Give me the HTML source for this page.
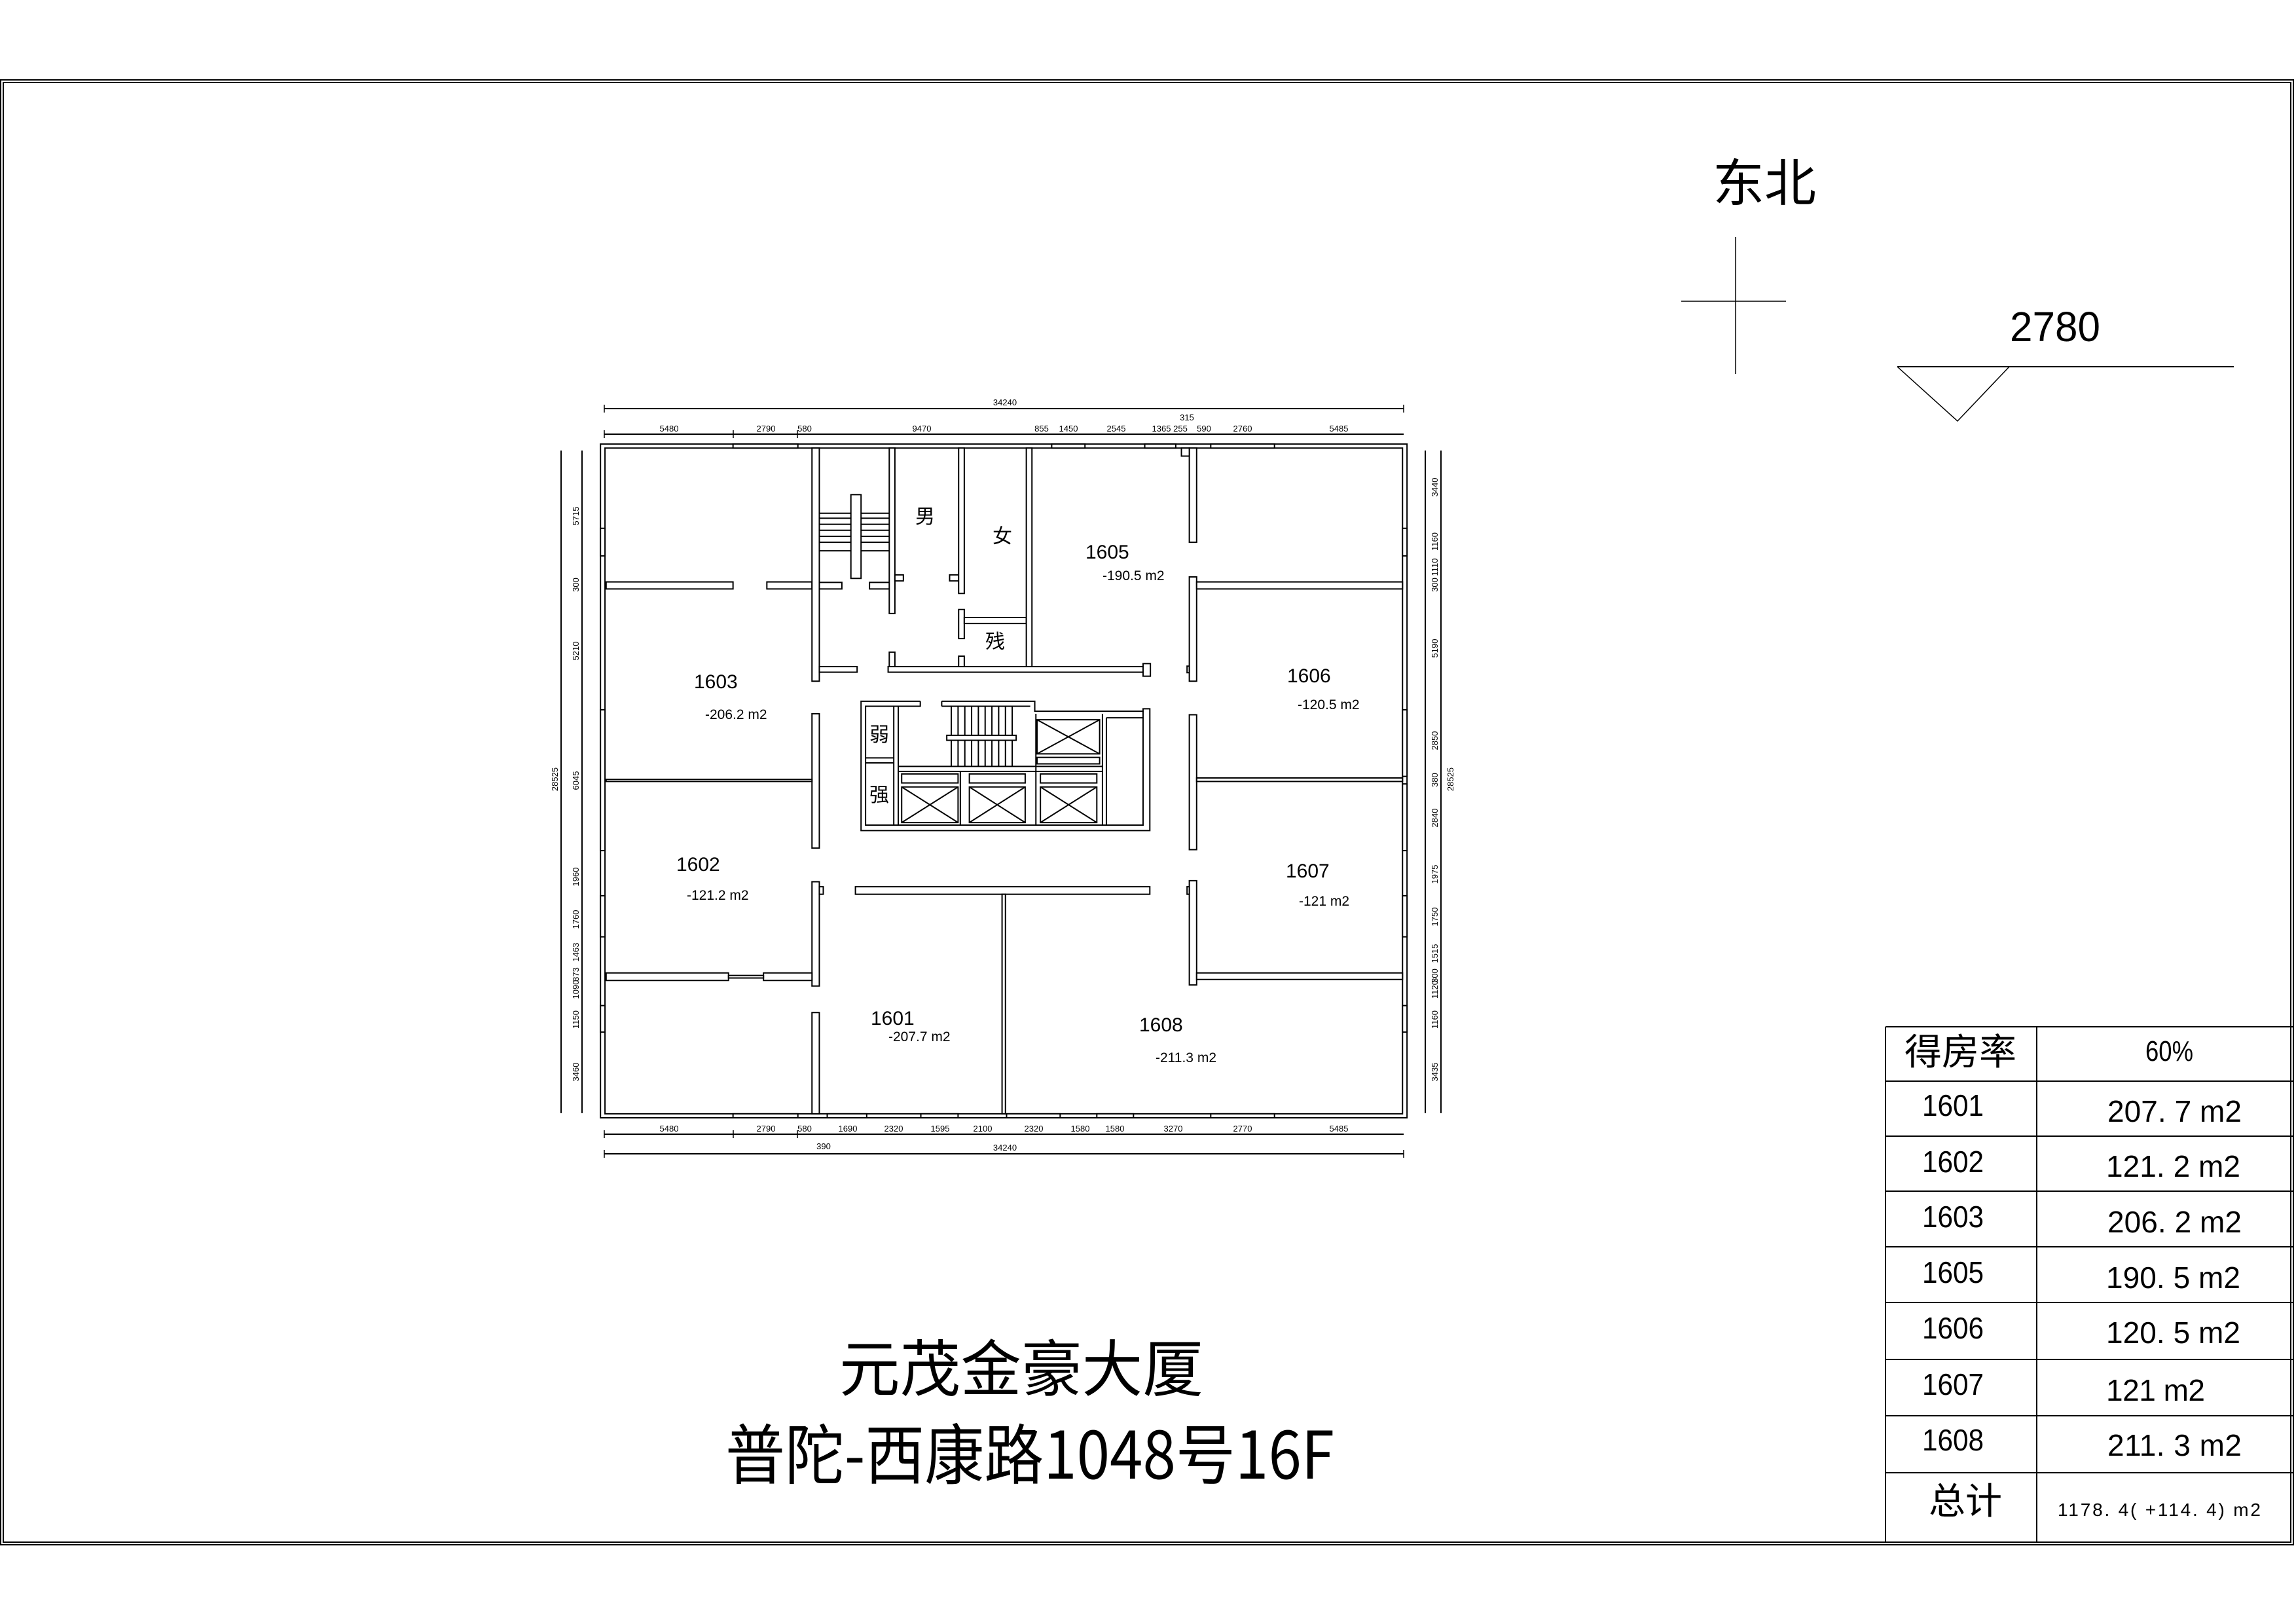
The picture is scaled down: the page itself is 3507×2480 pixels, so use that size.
<!DOCTYPE html>
<html><head><meta charset="utf-8"><style>
html,body{margin:0;padding:0;background:#fff;}
svg{display:block;}
text{font-family:"Liberation Sans","Noto Sans CJK SC",sans-serif;fill:#000;}
.cjk{font-family:"Noto Sans CJK SC","WenQuanYi Zen Hei",sans-serif;}
.d{font-size:13px;}
</style></head><body>
<svg width="3507" height="2480" viewBox="0 0 3507 2480" xmlns="http://www.w3.org/2000/svg">
<rect x="0" y="0" width="3507" height="2480" fill="#fff"/>
<rect x="1" y="122" width="3502" height="2237" fill="none" stroke="#000" stroke-width="2"/>
<rect x="5" y="126" width="3494" height="2229" fill="none" stroke="#000" stroke-width="2"/>

<text x="2616" y="307" class="cjk" font-size="78" textLength="158" lengthAdjust="spacingAndGlyphs">东北</text>
<line x1="2651" y1="362" x2="2651" y2="571" stroke="#000" stroke-width="1.5"/>
<line x1="2568" y1="460" x2="2728" y2="460" stroke="#000" stroke-width="1.5"/>
<text x="3070" y="521" font-size="64" textLength="138" lengthAdjust="spacingAndGlyphs">2780</text>
<line x1="2898" y1="560" x2="3412" y2="560" stroke="#000" stroke-width="2"/>
<polyline points="2898,560 2990,643 3069,560" fill="none" stroke="#000" stroke-width="1.5"/>

<g transform="translate(850,600) scale(0.8615,0.7656)" fill="#fff" stroke="#000" stroke-width="2">
<g>
<rect x="78" y="102" width="1430" height="1344" vector-effect="non-scaling-stroke"/>
<rect x="86" y="110" width="1414" height="1328" vector-effect="non-scaling-stroke"/>
</g>
<g>
<rect x="313" y="102" width="115" height="8" vector-effect="non-scaling-stroke"/>
<rect x="878" y="102" width="59" height="8" vector-effect="non-scaling-stroke"/>
<rect x="1043" y="102" width="55" height="8" vector-effect="non-scaling-stroke"/>
<rect x="1160" y="102" width="113" height="8" vector-effect="non-scaling-stroke"/>
<rect x="313" y="1438" width="115" height="8" vector-effect="non-scaling-stroke"/>
<rect x="480" y="1438" width="70" height="8" vector-effect="non-scaling-stroke"/>
<rect x="646" y="1438" width="66" height="8" vector-effect="non-scaling-stroke"/>
<rect x="798" y="1438" width="95" height="8" vector-effect="non-scaling-stroke"/>
<rect x="958" y="1438" width="65" height="8" vector-effect="non-scaling-stroke"/>
<rect x="1160" y="1438" width="113" height="8" vector-effect="non-scaling-stroke"/>
<rect x="78" y="270" width="8" height="55" vector-effect="non-scaling-stroke"/>
<rect x="78" y="632" width="8" height="281" vector-effect="non-scaling-stroke"/>
<rect x="78" y="1003" width="8" height="82" vector-effect="non-scaling-stroke"/>
<rect x="78" y="1222" width="8" height="53" vector-effect="non-scaling-stroke"/>
<rect x="1500" y="270" width="8" height="55" vector-effect="non-scaling-stroke"/>
<rect x="1500" y="632" width="8" height="133" vector-effect="non-scaling-stroke"/>
<rect x="1500" y="780" width="8" height="133" vector-effect="non-scaling-stroke"/>
<rect x="1500" y="1003" width="8" height="82" vector-effect="non-scaling-stroke"/>
<rect x="1500" y="1222" width="8" height="53" vector-effect="non-scaling-stroke"/>
</g>
<g>
<rect x="88" y="377" width="225" height="14" vector-effect="non-scaling-stroke"/>
<rect x="373" y="377" width="80" height="14" vector-effect="non-scaling-stroke"/>
<rect x="466" y="378" width="40" height="13" vector-effect="non-scaling-stroke"/>
<rect x="555" y="378" width="45" height="13" vector-effect="non-scaling-stroke"/>
<rect x="453" y="110" width="13" height="465" vector-effect="non-scaling-stroke"/>
<rect x="453" y="640" width="13" height="268" vector-effect="non-scaling-stroke"/>
<rect x="453" y="975" width="13" height="208" vector-effect="non-scaling-stroke"/>
<rect x="453" y="1236" width="13" height="202" vector-effect="non-scaling-stroke"/>
<rect x="88" y="771" width="365" height="4" vector-effect="non-scaling-stroke"/>
<rect x="88" y="1157" width="217" height="15" vector-effect="non-scaling-stroke"/>
<rect x="367" y="1157" width="86" height="15" vector-effect="non-scaling-stroke"/>
<rect x="305" y="1162" width="62" height="5" vector-effect="non-scaling-stroke"/>
<line x1="466" y1="240" x2="590" y2="240" vector-effect="non-scaling-stroke"/>
<line x1="466" y1="250" x2="590" y2="250" vector-effect="non-scaling-stroke"/>
<line x1="466" y1="262" x2="590" y2="262" vector-effect="non-scaling-stroke"/>
<line x1="466" y1="274" x2="590" y2="274" vector-effect="non-scaling-stroke"/>
<line x1="466" y1="286" x2="590" y2="286" vector-effect="non-scaling-stroke"/>
<line x1="466" y1="298" x2="590" y2="298" vector-effect="non-scaling-stroke"/>
<line x1="466" y1="315" x2="590" y2="315" vector-effect="non-scaling-stroke"/>
<rect x="522" y="203" width="18" height="167" vector-effect="non-scaling-stroke"/>
<rect x="590" y="110" width="10" height="330" vector-effect="non-scaling-stroke"/>
<rect x="600" y="363" width="15" height="12" vector-effect="non-scaling-stroke"/>
<rect x="697" y="363" width="16" height="12" vector-effect="non-scaling-stroke"/>
<rect x="713" y="110" width="10" height="290" vector-effect="non-scaling-stroke"/>
<rect x="713" y="432" width="10" height="58" vector-effect="non-scaling-stroke"/>
<rect x="723" y="448" width="110" height="12" vector-effect="non-scaling-stroke"/>
<rect x="833" y="110" width="10" height="436" vector-effect="non-scaling-stroke"/>
<rect x="713" y="525" width="10" height="21" vector-effect="non-scaling-stroke"/>
<rect x="590" y="517" width="10" height="29" vector-effect="non-scaling-stroke"/>
<rect x="466" y="546" width="67" height="11" vector-effect="non-scaling-stroke"/>
<rect x="588" y="546" width="455" height="11" vector-effect="non-scaling-stroke"/>
<rect x="1040" y="540" width="13" height="25" vector-effect="non-scaling-stroke"/>
<rect x="1122" y="110" width="13" height="188" vector-effect="non-scaling-stroke"/>
<rect x="1122" y="367" width="13" height="208" vector-effect="non-scaling-stroke"/>
<rect x="1122" y="642" width="13" height="269" vector-effect="non-scaling-stroke"/>
<rect x="1122" y="973" width="13" height="208" vector-effect="non-scaling-stroke"/>
<rect x="1108" y="110" width="14" height="16" vector-effect="non-scaling-stroke"/>
<rect x="1118" y="545" width="4" height="13" vector-effect="non-scaling-stroke"/>
<rect x="1118" y="985" width="4" height="15" vector-effect="non-scaling-stroke"/>
<rect x="466" y="985" width="7" height="15" vector-effect="non-scaling-stroke"/>
<rect x="1135" y="377" width="365" height="14" vector-effect="non-scaling-stroke"/>
<rect x="1135" y="768" width="365" height="7" vector-effect="non-scaling-stroke"/>
<rect x="1135" y="1157" width="365" height="13" vector-effect="non-scaling-stroke"/>
<rect x="530" y="985" width="522" height="15" vector-effect="non-scaling-stroke"/>
<rect x="790" y="1000" width="6" height="438" vector-effect="non-scaling-stroke"/>
</g>
<g fill="none">
<polyline points="645,615 540,615 540,873 1052,873 1052,630 1040,630 1040,635 848,635 848,615 683,615" vector-effect="non-scaling-stroke"/>
<polyline points="645,615 645,625 548,625 548,862 1040,862 1040,635" vector-effect="non-scaling-stroke"/>
<line x1="683" y1="615" x2="683" y2="625" vector-effect="non-scaling-stroke"/>
<line x1="683" y1="625" x2="840" y2="625" vector-effect="non-scaling-stroke"/>
<line x1="598" y1="625" x2="598" y2="862" vector-effect="non-scaling-stroke"/>
<line x1="606" y1="625" x2="606" y2="862" vector-effect="non-scaling-stroke"/>
<line x1="548" y1="728" x2="598" y2="728" vector-effect="non-scaling-stroke"/>
<line x1="548" y1="738" x2="598" y2="738" vector-effect="non-scaling-stroke"/>
<line x1="606" y1="745" x2="968" y2="745" vector-effect="non-scaling-stroke"/>
<line x1="606" y1="755" x2="968" y2="755" vector-effect="non-scaling-stroke"/>
<line x1="716" y1="755" x2="716" y2="862" vector-effect="non-scaling-stroke"/>
<line x1="850" y1="640" x2="850" y2="862" vector-effect="non-scaling-stroke"/>
<line x1="968" y1="640" x2="968" y2="862" vector-effect="non-scaling-stroke"/>
<line x1="975" y1="648" x2="975" y2="862" vector-effect="non-scaling-stroke"/>
<line x1="975" y1="648" x2="1040" y2="648" vector-effect="non-scaling-stroke"/>
<line x1="700" y1="625" x2="700" y2="745" vector-effect="non-scaling-stroke"/>
<line x1="712" y1="625" x2="712" y2="745" vector-effect="non-scaling-stroke"/>
<line x1="724" y1="625" x2="724" y2="745" vector-effect="non-scaling-stroke"/>
<line x1="736" y1="625" x2="736" y2="745" vector-effect="non-scaling-stroke"/>
<line x1="748" y1="625" x2="748" y2="745" vector-effect="non-scaling-stroke"/>
<line x1="760" y1="625" x2="760" y2="745" vector-effect="non-scaling-stroke"/>
<line x1="772" y1="625" x2="772" y2="745" vector-effect="non-scaling-stroke"/>
<line x1="784" y1="625" x2="784" y2="745" vector-effect="non-scaling-stroke"/>
<line x1="796" y1="625" x2="796" y2="745" vector-effect="non-scaling-stroke"/>
<line x1="808" y1="625" x2="808" y2="745" vector-effect="non-scaling-stroke"/>
<rect x="692" y="683" width="123" height="10" fill="#fff" vector-effect="non-scaling-stroke"/>
<rect x="852" y="652" width="111" height="68" vector-effect="non-scaling-stroke"/>
<line x1="852" y1="652" x2="963" y2="720" vector-effect="non-scaling-stroke"/>
<line x1="963" y1="652" x2="852" y2="720" vector-effect="non-scaling-stroke"/>
<rect x="852" y="727" width="111" height="13" vector-effect="non-scaling-stroke"/>
<rect x="612" y="760" width="100" height="18" vector-effect="non-scaling-stroke"/>
<rect x="612" y="786" width="100" height="71" vector-effect="non-scaling-stroke"/>
<line x1="612" y1="786" x2="712" y2="857" vector-effect="non-scaling-stroke"/>
<line x1="712" y1="786" x2="612" y2="857" vector-effect="non-scaling-stroke"/>
<rect x="732" y="760" width="99" height="18" vector-effect="non-scaling-stroke"/>
<rect x="732" y="786" width="99" height="71" vector-effect="non-scaling-stroke"/>
<line x1="732" y1="786" x2="831" y2="857" vector-effect="non-scaling-stroke"/>
<line x1="831" y1="786" x2="732" y2="857" vector-effect="non-scaling-stroke"/>
<rect x="858" y="760" width="100" height="18" vector-effect="non-scaling-stroke"/>
<rect x="858" y="786" width="100" height="71" vector-effect="non-scaling-stroke"/>
<line x1="858" y1="786" x2="958" y2="857" vector-effect="non-scaling-stroke"/>
<line x1="958" y1="786" x2="858" y2="857" vector-effect="non-scaling-stroke"/>
</g>
</g>

<g stroke="#000" stroke-width="2">
<line x1="923" y1="624" x2="2144" y2="624"/>
<line x1="923" y1="663" x2="2144" y2="663"/>
<line x1="923" y1="1732" x2="2144" y2="1732"/>
<line x1="923" y1="1762" x2="2144" y2="1762"/>
<line x1="889" y1="688" x2="889" y2="1700"/>
<line x1="857" y1="688" x2="857" y2="1700"/>
<line x1="2177" y1="688" x2="2177" y2="1700"/>
<line x1="2201" y1="688" x2="2201" y2="1700"/>
</g>
<g stroke="#000" stroke-width="1.5">
<line x1="923" y1="618" x2="923" y2="630"/><line x1="2144" y1="618" x2="2144" y2="630"/>
<line x1="923" y1="657" x2="923" y2="669"/><line x1="1120" y1="657" x2="1120" y2="669"/><line x1="1218" y1="657" x2="1218" y2="669"/>
<line x1="923" y1="1726" x2="923" y2="1738"/><line x1="1120" y1="1726" x2="1120" y2="1738"/><line x1="1218" y1="1726" x2="1218" y2="1738"/>
<line x1="923" y1="1756" x2="923" y2="1768"/><line x1="2144" y1="1756" x2="2144" y2="1768"/>
</g>
<g class="d" text-anchor="middle">
<text x="1535" y="619">34240</text>
<text x="1022" y="659">5480</text><text x="1170" y="659">2790</text><text x="1229" y="659">580</text>
<text x="1408" y="659">9470</text><text x="1591" y="659">855</text><text x="1632" y="659">1450</text>
<text x="1705" y="659">2545</text><text x="1774" y="659">1365</text><text x="1803" y="659">255</text>
<text x="1813" y="642">315</text><text x="1839" y="659">590</text><text x="1898" y="659">2760</text><text x="2045" y="659">5485</text>
<text x="1022" y="1728">5480</text><text x="1170" y="1728">2790</text><text x="1229" y="1728">580</text>
<text x="1295" y="1728">1690</text><text x="1365" y="1728">2320</text><text x="1436" y="1728">1595</text>
<text x="1501" y="1728">2100</text><text x="1579" y="1728">2320</text><text x="1650" y="1728">1580</text>
<text x="1703" y="1728">1580</text><text x="1792" y="1728">3270</text><text x="1898" y="1728">2770</text><text x="2045" y="1728">5485</text>
<text x="1258" y="1755">390</text><text x="1535" y="1757">34240</text>
</g>
<g class="d" text-anchor="middle">
<text transform="translate(884,788) rotate(-90)">5715</text>
<text transform="translate(884,893) rotate(-90)">300</text>
<text transform="translate(884,994) rotate(-90)">5210</text>
<text transform="translate(884,1192) rotate(-90)">6045</text>
<text transform="translate(884,1339) rotate(-90)">1960</text>
<text transform="translate(884,1404) rotate(-90)">1760</text>
<text transform="translate(884,1454) rotate(-90)">1463</text>
<text transform="translate(884,1488) rotate(-90)">373</text>
<text transform="translate(884,1511) rotate(-90)">1090</text>
<text transform="translate(884,1557) rotate(-90)">1150</text>
<text transform="translate(884,1637) rotate(-90)">3460</text>
<text transform="translate(852,1190) rotate(-90)">28525</text>
<text transform="translate(2196,744) rotate(-90)">3440</text>
<text transform="translate(2196,827) rotate(-90)">1160</text>
<text transform="translate(2196,866) rotate(-90)">1110</text>
<text transform="translate(2196,893) rotate(-90)">300</text>
<text transform="translate(2196,990) rotate(-90)">5190</text>
<text transform="translate(2196,1131) rotate(-90)">2850</text>
<text transform="translate(2196,1191) rotate(-90)">380</text>
<text transform="translate(2196,1249) rotate(-90)">2840</text>
<text transform="translate(2196,1335) rotate(-90)">1975</text>
<text transform="translate(2196,1400) rotate(-90)">1750</text>
<text transform="translate(2196,1456) rotate(-90)">1515</text>
<text transform="translate(2196,1490) rotate(-90)">300</text>
<text transform="translate(2196,1511) rotate(-90)">1120</text>
<text transform="translate(2196,1557) rotate(-90)">1160</text>
<text transform="translate(2196,1637) rotate(-90)">3435</text>
<text transform="translate(2220,1190) rotate(-90)">28525</text>
</g>

<g class="cjk" font-size="30" text-anchor="middle">
<text x="1413" y="799">男</text>
<text x="1531" y="829">女</text>
<text x="1520" y="990">残</text>
<text x="1343" y="1132">弱</text>
<text x="1343" y="1224">强</text>
</g>
<g font-size="30">
<text x="1658" y="853">1605</text>
<text x="1060" y="1051">1603</text>
<text x="1966" y="1042">1606</text>
<text x="1033" y="1330">1602</text>
<text x="1964" y="1340">1607</text>
<text x="1330" y="1565">1601</text>
<text x="1740" y="1575">1608</text>
</g>
<g font-size="21">
<text x="1684" y="886">-190.5 m2</text>
<text x="1077" y="1098">-206.2 m2</text>
<text x="1982" y="1083">-120.5 m2</text>
<text x="1049" y="1374">-121.2 m2</text>
<text x="1984" y="1383">-121 m2</text>
<text x="1357" y="1590">-207.7 m2</text>
<text x="1765" y="1622">-211.3 m2</text>
</g>

<text x="1282" y="2124" class="cjk" font-size="94" textLength="556" lengthAdjust="spacingAndGlyphs">元茂金豪大厦</text>
<text x="1108" y="2258" class="cjk" font-size="100" textLength="930" lengthAdjust="spacingAndGlyphs">普陀-西康路1048号16F</text>

<g stroke="#000" stroke-width="2">
<line x1="2880" y1="1568" x2="3502" y2="1568"/>
<line x1="2880" y1="1651" x2="3502" y2="1651"/>
<line x1="2880" y1="1735" x2="3502" y2="1735"/>
<line x1="2880" y1="1819" x2="3502" y2="1819"/>
<line x1="2880" y1="1904" x2="3502" y2="1904"/>
<line x1="2880" y1="1989" x2="3502" y2="1989"/>
<line x1="2880" y1="2076" x2="3502" y2="2076"/>
<line x1="2880" y1="2162" x2="3502" y2="2162"/>
<line x1="2880" y1="2249" x2="3502" y2="2249"/>
<line x1="2880" y1="1568" x2="2880" y2="2355"/>
<line x1="3111" y1="1568" x2="3111" y2="2355"/>
</g>
<text x="2909" y="1626" class="cjk" font-size="56" textLength="171" lengthAdjust="spacingAndGlyphs">得房率</text>
<text x="3277" y="1620" font-size="44" textLength="73" lengthAdjust="spacingAndGlyphs">60%</text>
<g font-size="46">
<text x="2936" y="1704" textLength="94" lengthAdjust="spacingAndGlyphs">1601</text>
<text x="2936" y="1790" textLength="94" lengthAdjust="spacingAndGlyphs">1602</text>
<text x="2936" y="1874" textLength="94" lengthAdjust="spacingAndGlyphs">1603</text>
<text x="2936" y="1959" textLength="94" lengthAdjust="spacingAndGlyphs">1605</text>
<text x="2936" y="2044" textLength="94" lengthAdjust="spacingAndGlyphs">1606</text>
<text x="2936" y="2130" textLength="94" lengthAdjust="spacingAndGlyphs">1607</text>
<text x="2936" y="2215" textLength="94" lengthAdjust="spacingAndGlyphs">1608</text>
<text x="3219" y="1713" textLength="205" lengthAdjust="spacing">207. 7  m2</text>
<text x="3217" y="1797" textLength="205" lengthAdjust="spacing">121. 2  m2</text>
<text x="3219" y="1882" textLength="205" lengthAdjust="spacing">206. 2  m2</text>
<text x="3217" y="1967" textLength="205" lengthAdjust="spacing">190. 5  m2</text>
<text x="3217" y="2051" textLength="205" lengthAdjust="spacing">120. 5  m2</text>
<text x="3217" y="2139" textLength="151" lengthAdjust="spacing">121  m2</text>
<text x="3219" y="2223" textLength="205" lengthAdjust="spacing">211. 3  m2</text>
</g>
<text x="2946" y="2312" class="cjk" font-size="56" textLength="112" lengthAdjust="spacingAndGlyphs">总计</text>
<text x="3143" y="2315" font-size="28" textLength="310" lengthAdjust="spacing">1178. 4( +114. 4)  m2</text>
</svg>
</body></html>
